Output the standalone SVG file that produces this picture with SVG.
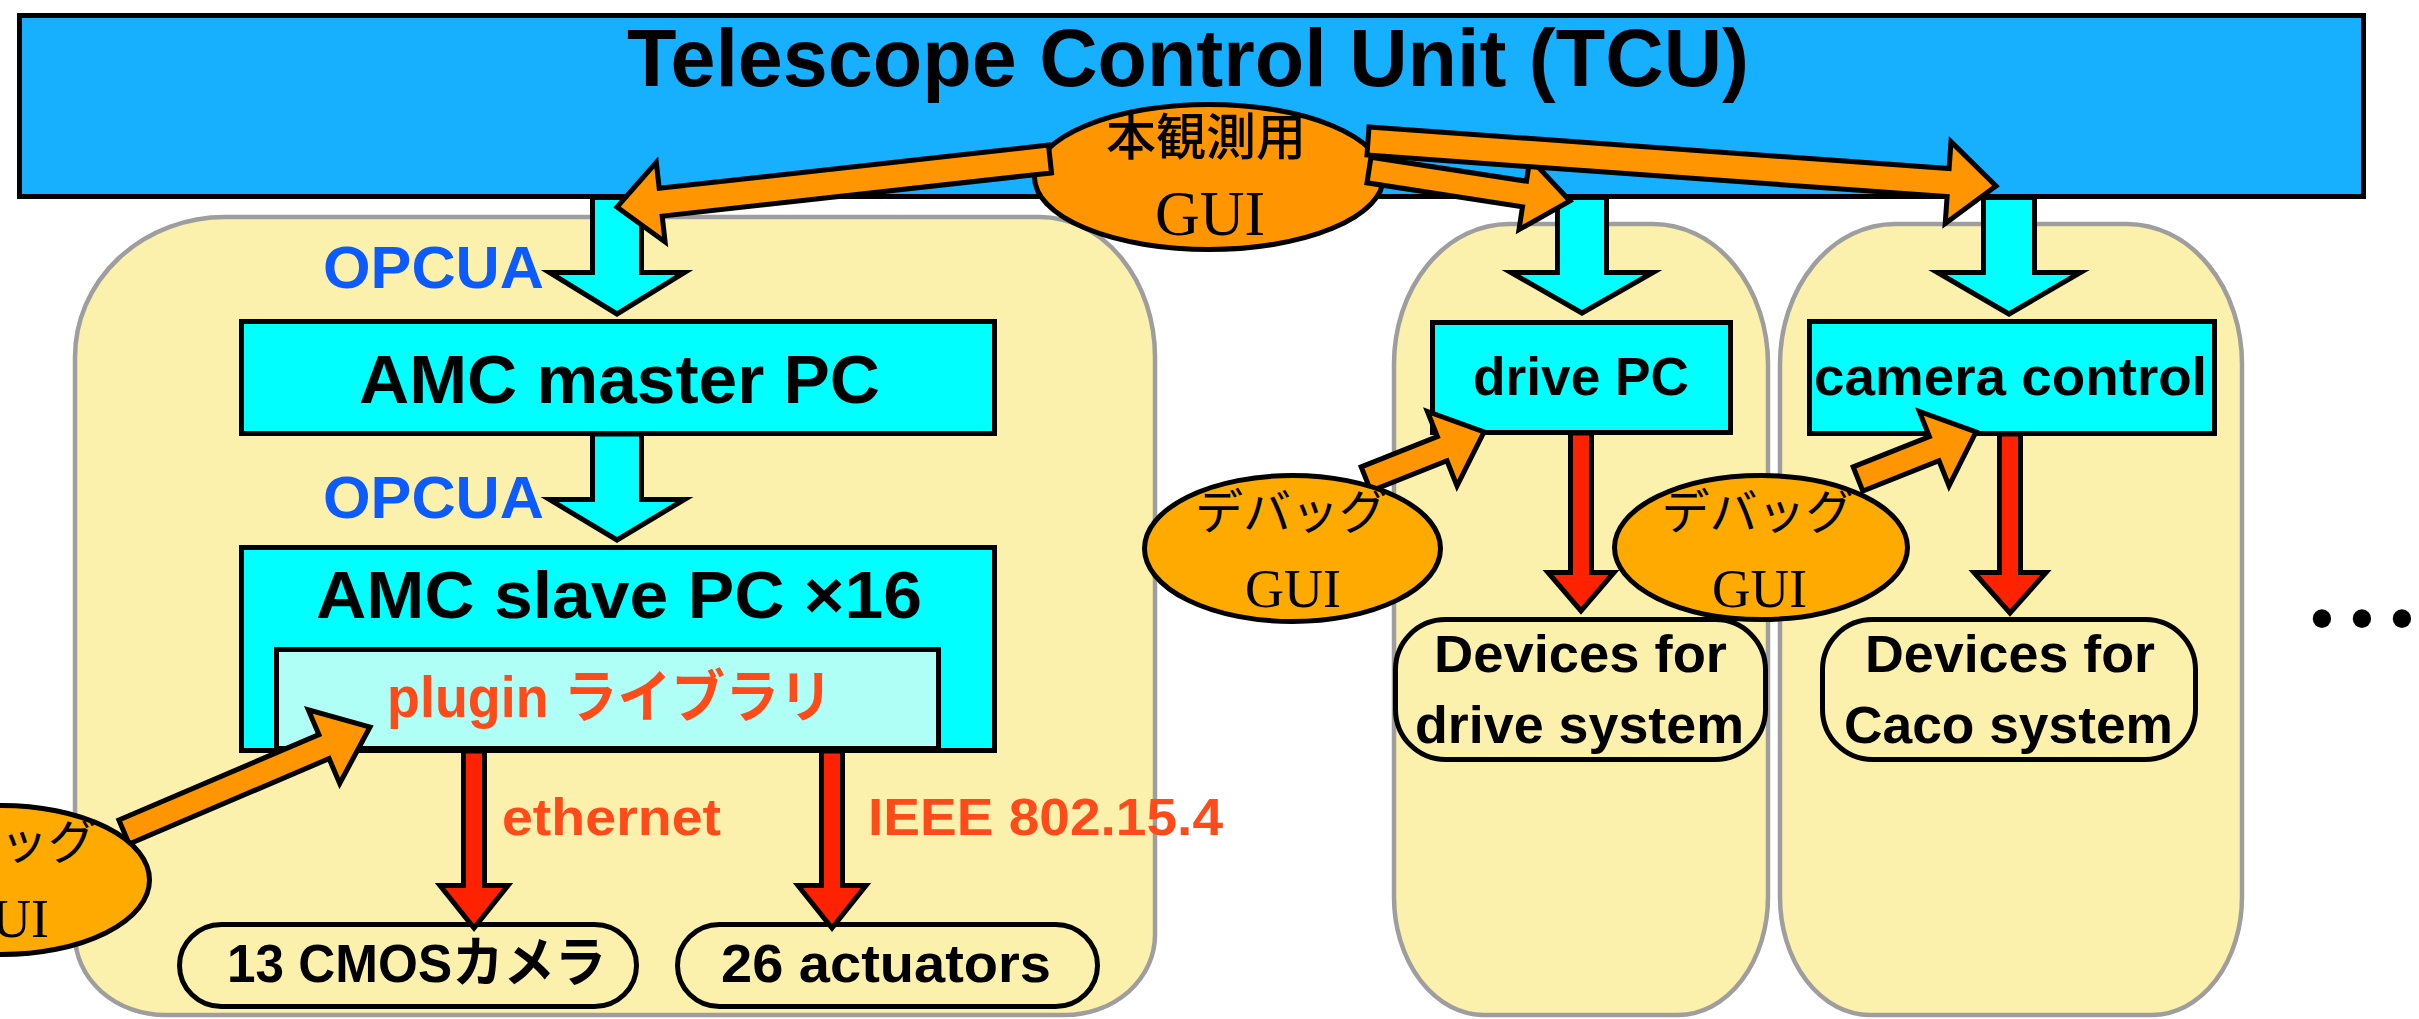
<svg xmlns="http://www.w3.org/2000/svg" width="2419" height="1019" viewBox="0 0 2419 1019">
<defs>
<style>
.tcu{fill:#17AFFF;stroke:#000;stroke-width:5}
.box{fill:#00FFFF;stroke:#000;stroke-width:5}
.plug{fill:#B0FFF6;stroke:#000;stroke-width:5}
.cont{fill:#FCF1AC;stroke:#9E9E9E;stroke-width:4.5}
.dev{fill:#FCF1AC;stroke:#000;stroke-width:5}
.cyan{fill:#00FFFF;stroke:#000;stroke-width:5;stroke-linejoin:miter}
.red{fill:#FF2200;stroke:#000;stroke-width:5;stroke-linejoin:miter}
.org{fill:#FF9500;stroke:#000;stroke-width:5;stroke-linejoin:miter}
.gui{fill:#FF9500;stroke:#000;stroke-width:5}
.dbg{fill:#FFAA00;stroke:#000;stroke-width:5}
.t{font-family:"Liberation Sans",Arial,sans-serif;font-weight:bold;fill:#000}
.tj{font-family:"Liberation Sans","Noto Sans CJK JP",sans-serif;font-weight:bold}
.jp{font-family:"Noto Sans CJK JP",sans-serif;fill:#000}
.sf{font-family:"Liberation Serif","Times New Roman",serif;fill:#000}
.blue{fill:#0B5BFF}
.rt{fill:#FF4A1A}
</style>
</defs>
<rect width="2419" height="1019" fill="#FFFFFF"/>

<g id="tcu">
<rect class="tcu" x="19.5" y="15.5" width="2344" height="181"/>
<text class="t" x="627" y="86" font-size="81" textLength="1122" lengthAdjust="spacingAndGlyphs">Telescope Control Unit (TCU)</text>
</g>

<g id="amc-system">
<path class="cont" d="M 225,217 H 1040 A 115,140 0 0 1 1155,357 V 935 A 90,80 0 0 1 1065,1015 H 165 A 90,80 0 0 1 75,935 V 357 A 150,140 0 0 1 225,217 Z"/>
</g>
<g id="drive-system">
<path class="cont" d="M 1509,224 H 1653 A 115,140 0 0 1 1768,364 V 897 A 90,118 0 0 1 1678,1015 H 1484 A 90,118 0 0 1 1394,897 V 364 A 115,140 0 0 1 1509,224 Z"/>
</g>
<g id="camera-system">
<path class="cont" d="M 1895,224 H 2127 A 115,140 0 0 1 2242,364 V 897 A 90,118 0 0 1 2152,1015 H 1870 A 90,118 0 0 1 1780,897 V 364 A 115,140 0 0 1 1895,224 Z"/>
</g>

<g id="amc-master">
<rect class="box" x="241.5" y="321.5" width="753" height="112"/>
<text class="t" x="359" y="403" font-size="68" textLength="521" lengthAdjust="spacingAndGlyphs">AMC master PC</text>
</g>
<g id="amc-slave">
<rect class="box" x="241.5" y="547.5" width="753" height="203"/>
<text class="t" x="316" y="618" font-size="66" textLength="606" lengthAdjust="spacingAndGlyphs">AMC slave PC ×16</text>
</g>
<g id="plugin">
<rect class="plug" x="276.5" y="649.5" width="662" height="99"/>
<text class="tj rt" x="387" y="717" font-size="57" textLength="446" lengthAdjust="spacingAndGlyphs">plugin ライブラリ</text>
</g>
<g id="cmos">
<rect class="dev" x="179.5" y="924.5" width="457" height="82" rx="42" ry="42"/>
<text class="tj" x="227" y="982" font-size="54" textLength="379" lengthAdjust="spacingAndGlyphs">13 CMOSカメラ</text>
</g>
<g id="actuators">
<rect class="dev" x="677.5" y="924.5" width="420" height="82" rx="42" ry="42"/>
<text class="t" x="721" y="982" font-size="54" textLength="330" lengthAdjust="spacingAndGlyphs">26 actuators</text>
</g>
<g id="drive-pc">
<rect class="box" x="1432.5" y="322.5" width="298" height="110"/>
<text class="t" x="1473" y="395" font-size="53" textLength="216" lengthAdjust="spacingAndGlyphs">drive PC</text>
</g>
<g id="camera-control">
<rect class="box" x="1809.5" y="321.5" width="405" height="112"/>
<text class="t" x="1814" y="395" font-size="54" textLength="393" lengthAdjust="spacingAndGlyphs">camera control</text>
</g>
<g id="drive-devices">
<rect class="dev" x="1395.5" y="619.5" width="370" height="140" rx="50" ry="50"/>
<text class="t" x="1434" y="672" font-size="51" textLength="293" lengthAdjust="spacingAndGlyphs">Devices for</text>
<text class="t" x="1415" y="743" font-size="51" textLength="329" lengthAdjust="spacingAndGlyphs">drive system</text>
</g>
<g id="caco-devices">
<rect class="dev" x="1822.5" y="619.5" width="373" height="140" rx="50" ry="50"/>
<text class="t" x="1865" y="672" font-size="51" textLength="290" lengthAdjust="spacingAndGlyphs">Devices for</text>
<text class="t" x="1844" y="743" font-size="51" textLength="329" lengthAdjust="spacingAndGlyphs">Caco system</text>
</g>

<g id="main-gui">
<ellipse class="gui" cx="1209" cy="177" rx="174.5" ry="72.5"/>
<text class="jp" x="1206" y="155" font-size="50" font-weight="500" text-anchor="middle">本観測用</text>
<text class="sf" x="1155" y="235" font-size="63" textLength="110" lengthAdjust="spacingAndGlyphs">GUI</text>
</g>

<g id="connectors">
<polygon class="cyan" points="592.5,197.5 641.5,197.5 641.5,272.5 684.5,272.5 617,314 549.5,272.5 592.5,272.5"/>
<text class="t blue" x="323" y="288" font-size="60" textLength="221" lengthAdjust="spacingAndGlyphs">OPCUA</text>
<polygon class="cyan" points="592.5,434 641.5,434 641.5,499.5 684.5,499.5 617,540 549.5,499.5 592.5,499.5"/>
<text class="t blue" x="323" y="518" font-size="60" textLength="221" lengthAdjust="spacingAndGlyphs">OPCUA</text>
<polygon class="cyan" points="1557.5,197.5 1606.5,197.5 1606.5,272.5 1653,272.5 1582,313 1511,272.5 1557.5,272.5"/>
<polygon class="cyan" points="1983.5,197.5 2034.5,197.5 2034.5,272.5 2080.5,272.5 2009,314 1937.5,272.5 1983.5,272.5"/>

<polygon class="red" points="463.5,751 484.5,751 484.5,885.5 508,885.5 474,928 440,885.5 463.5,885.5"/>
<text class="t rt" x="502" y="835" font-size="52" textLength="219" lengthAdjust="spacingAndGlyphs">ethernet</text>
<polygon class="red" points="821.5,751 842.5,751 842.5,885.5 866,885.5 832,928 798,885.5 821.5,885.5"/>
<text class="t rt" x="868" y="835" font-size="52" textLength="355" lengthAdjust="spacingAndGlyphs">IEEE 802.15.4</text>
<polygon class="red" points="1570.5,433 1591.5,433 1591.5,572.5 1614,572.5 1581,611 1548,572.5 1570.5,572.5"/>
<polygon class="red" points="1999.5,434 2020.5,434 2020.5,572.5 2046,572.5 2010,613 1974,572.5 1999.5,572.5"/>

<polygon class="org" points="1051.5,172.9 662.2,216.1 665.1,241.9 617,207 656.3,162.4 659.2,188.3 1048.5,145.1"/>
<polygon class="org" points="1371,157.2 1526.5,181.2 1530,158.4 1570,201 1519,229.6 1522.5,206.8 1367,182.8"/>
<polygon class="org" points="1369,127 1949.1,168.6 1951,141.7 1996,186 1945.2,223.5 1947.1,196.6 1367,155"/>

<polygon class="org" points="118.9,820 318.9,734.6 308.3,709.8 370,727 339.7,783.4 329.1,758.6 129.1,844"/>
<polygon class="org" points="1361.2,466.9 1437.4,436.6 1427.4,411.5 1484,432 1457,485.9 1447,460.8 1370.8,491.1"/>
<polygon class="org" points="1853.2,466.9 1929.4,436.6 1919.4,411.5 1976,432 1949,485.9 1939,460.8 1862.8,491.1"/>
</g>

<g id="debug-gui-amc">
<ellipse class="dbg" cx="1.5" cy="880" rx="148" ry="74.5"/>
<text class="jp" x="0" y="859" font-size="48" text-anchor="middle">デバッグ</text>
<text class="sf" x="1" y="937" font-size="55" text-anchor="middle" textLength="96" lengthAdjust="spacingAndGlyphs">GUI</text>
</g>
<g id="debug-gui-drive">
<ellipse class="dbg" cx="1292.5" cy="548.5" rx="148" ry="73"/>
<text class="jp" x="1291" y="529" font-size="48" text-anchor="middle">デバッグ</text>
<text class="sf" x="1245" y="607" font-size="55" textLength="96" lengthAdjust="spacingAndGlyphs">GUI</text>
</g>
<g id="debug-gui-camera">
<ellipse class="dbg" cx="1761" cy="547.5" rx="146.5" ry="72"/>
<text class="jp" x="1757.5" y="529" font-size="48" text-anchor="middle">デバッグ</text>
<text class="sf" x="1712" y="607" font-size="55" textLength="95" lengthAdjust="spacingAndGlyphs">GUI</text>
</g>

<g id="more">
<text class="t" font-weight="normal" x="2322 2362 2402" y="640" font-size="64" text-anchor="middle">•••</text>
</g>
</svg>
